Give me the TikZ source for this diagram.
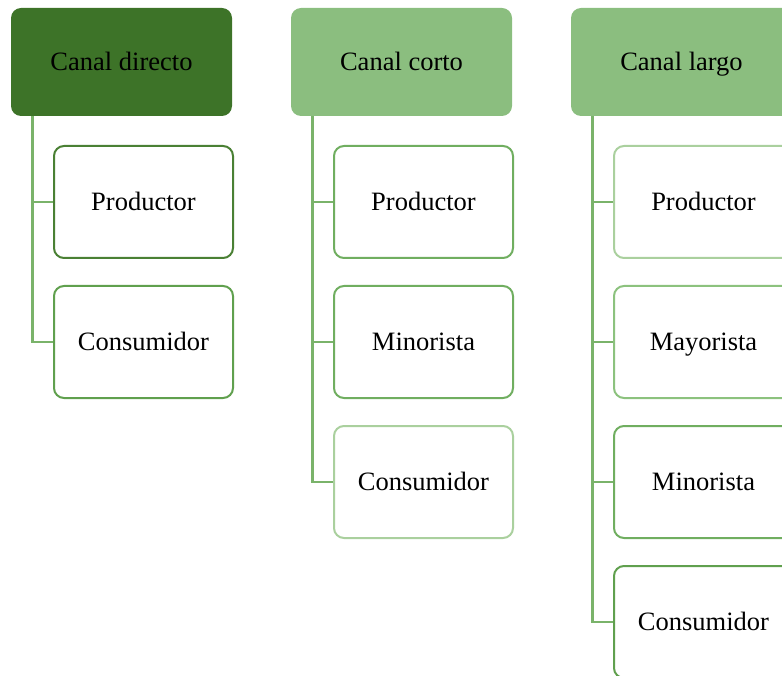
\documentclass[tikz,border=0pt]{standalone}
\usepackage{fontspec}
\setmainfont{Liberation Serif}
\definecolor{headdark}{RGB}{61,115,40}
\definecolor{headlight}{RGB}{139,190,127}
\definecolor{linkgreen}{RGB}{122,179,106}
\definecolor{edgeA}{RGB}{74,128,52}
\definecolor{edgeB}{RGB}{96,160,78}
\definecolor{edgeC}{RGB}{112,174,96}
\definecolor{edgeD}{RGB}{140,194,126}
\definecolor{edgeE}{RGB}{170,208,158}
\begin{document}
\begin{tikzpicture}[x=1pt,y=-1pt,
  every node/.style={font=\fontsize{26.5}{30}\selectfont, text=black, text height=18pt, text depth=1pt},
  header/.style={rectangle, rounded corners=10pt, minimum width=221pt, minimum height=108pt, inner sep=0pt},
  item/.style={rectangle, rounded corners=10pt, draw, line width=2pt, fill=white, minimum width=179pt, minimum height=112pt, inner sep=0pt},
  link/.style={draw=linkgreen, line width=2.8pt}]
\useasboundingbox (0,0) rectangle (782,676);
\clip (0,0) rectangle (782,676);

% headers
\node[header, fill=headdark] (h1) at (121.5,62) {Canal directo};
\node[header, fill=headlight] (h2) at (401.5,62) {Canal corto};
\node[header, fill=headlight] (h3) at (681.5,62) {Canal largo};

% roots of the connector trees
\coordinate (r1) at ([xshift=22pt]h1.south west);
\coordinate (r2) at ([xshift=22pt]h2.south west);
\coordinate (r3) at ([xshift=22pt]h3.south west);

% column 1
\node[item, draw=edgeA] (a1) at (143.5,202) {Productor};
\node[item, draw=edgeB] (a2) at (143.5,342) {Consumidor};

% column 2
\node[item, draw=edgeC] (b1) at (423.5,202) {Productor};
\node[item, draw=edgeC] (b2) at (423.5,342) {Minorista};
\node[item, draw=edgeE] (b3) at (423.5,482) {Consumidor};

% column 3
\node[item, draw=edgeE] (c1) at (703.5,202) {Productor};
\node[item, draw=edgeD] (c2) at (703.5,342) {Mayorista};
\node[item, draw=edgeC] (c3) at (703.5,482) {Minorista};
\node[item, draw=edgeB] (c4) at (703.5,622) {Consumidor};

% connectors
\foreach \n in {a1,a2} \draw[link] (r1) |- (\n.west);
\foreach \n in {b1,b2,b3} \draw[link] (r2) |- (\n.west);
\foreach \n in {c1,c2,c3,c4} \draw[link] (r3) |- (\n.west);
\end{tikzpicture}
\end{document}
